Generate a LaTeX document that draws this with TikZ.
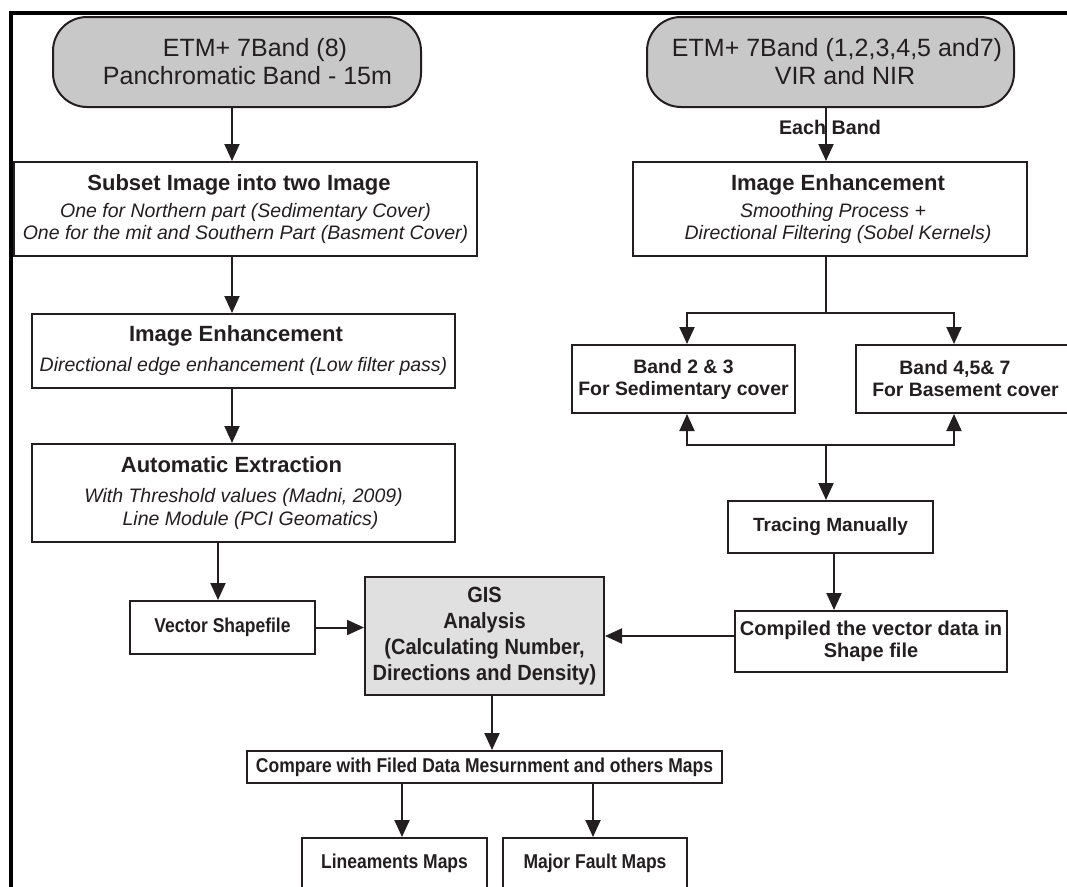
\documentclass[tikz,border=0pt]{standalone}
\usepackage{fontspec}
\setmainfont{Liberation Sans}
\newfontfamily\narrowsans[FakeStretch=0.875]{Liberation Sans}
\newfontfamily\gissans[FakeStretch=0.91]{Liberation Sans}
\usetikzlibrary{arrows.meta}
\definecolor{ink}{RGB}{35,31,32}
\definecolor{topgray}{RGB}{200,200,200}
\definecolor{gisgray}{RGB}{224,224,224}
\newcommand{\boxtitle}[1]{{\fontsize{22}{22}\selectfont\bfseries #1}}
\newcommand{\boxital}[1]{{\mdseries\itshape\fontsize{19.5}{22}\selectfont #1}}
\begin{document}
\begin{tikzpicture}[x=1pt,y=-1pt,
  every node/.style={text=ink},
  box/.style={draw=ink,line width=2pt,fill=white,align=center,inner sep=2pt,
    font=\fontsize{19.4}{22}\selectfont\bfseries},
  smallbox/.style={box,font=\narrowsans\fontsize{20}{22}\selectfont\bfseries},
  topbox/.style={box,fill=topgray,rounded corners=34pt,font=\fontsize{25}{28}\selectfont},
  ln/.style={draw=ink,line width=2pt},
  arr/.style={ln,-{Triangle[length=17pt,width=15pt]}},
  frame/.style={draw=black,line width=4pt}]
\useasboundingbox (0,0) rectangle (1067,886);
\fill[white] (0,0) rectangle (1067,886);
\clip (0,0) rectangle (1067,886);
\draw[frame] (1090,13) -- (11,13) -- (11,900);

% left column
\node[topbox,minimum width=368pt,minimum height=90pt] (tl) at (237,62)
  {\hspace*{36pt}ETM+ 7Band (8)\\\hspace*{21pt}Panchromatic Band - 15m};
\node[box,minimum width=463pt,minimum height=94pt] (sub) at (245.5,209)
  {\boxtitle{Subset Image into two Image}\hspace*{13pt}\\[5pt]
   \boxital{One for Northern part (Sedimentary Cover)}\\
   \boxital{One for the mit and Southern Part (Basment Cover)}};
\node[box,minimum width=423pt,minimum height=74pt] (ieL) at (243.5,351)
  {\boxtitle{Image Enhancement}\hspace*{15pt}\\[8pt]
   \boxital{Directional edge enhancement (Low filter pass)}};
\node[box,minimum width=423pt,minimum height=98pt] (ae) at (243.5,493)
  {\boxtitle{Automatic Extraction}\hspace*{24pt}\\[8pt]
   \boxital{With Threshold values (Madni, 2009)}\\[1pt]
   \hspace*{14pt}\boxital{Line Module (PCI Geomatics)}};
\node[smallbox,minimum width=185pt,minimum height=53pt] (vec) at (222.5,627.5) {Vector Shapefile};
\node[box,fill=gisgray,minimum width=239pt,minimum height=118pt,
  font=\gissans\fontsize{22}{26}\selectfont\bfseries] (gis) at (484.5,636)
  {GIS\\Analysis\\(Calculating Number,\\Directions and Density)};

% right column
\node[topbox,minimum width=367pt,minimum height=90pt] (tr) at (830.5,62)
  {\hspace*{13pt}ETM+ 7Band (1,2,3,4,5 and7)\\\hspace*{29pt}VIR and NIR};
\node[font=\fontsize{19.7}{22}\selectfont\bfseries] (eb) at (830,127) {Each Band};
\node[box,minimum width=394pt,minimum height=94pt] (ieR) at (830,209)
  {\hspace*{16pt}\boxtitle{Image Enhancement}\\[5pt]
   \hspace*{6pt}\boxital{Smoothing Process +}\\
   \hspace*{16pt}\boxital{Directional Filtering (Sobel Kernels)}};
\node[box,minimum width=223pt,minimum height=68pt] (b23) at (683.5,379)
  {Band 2 \& 3\\For Sedimentary cover};
\node[box,minimum width=223pt,minimum height=68pt] (b457) at (967.5,379)
  {Band 4,5\& 7\hspace*{25pt}\\For Basement cover\hspace*{4pt}};
\node[box,minimum width=205pt,minimum height=52pt,font=\fontsize{19.1}{22}\selectfont\bfseries]
  (tm) at (830.5,527) {Tracing Manually};
\node[box,minimum width=272pt,minimum height=61pt,font=\fontsize{20}{22}\selectfont\bfseries]
  (comp) at (871,641.5) {Compiled the vector data in\\Shape file};

% bottom
\node[smallbox,minimum width=475pt,minimum height=32pt] (cmp) at (484.5,767)
  {Compare with Filed Data Mesurnment and others Maps};
\node[smallbox,anchor=north,minimum width=185pt,minimum height=60pt,text height=14pt,text depth=14pt]
  (lin) at (394.5,837) {Lineaments Maps};
\node[smallbox,anchor=north,minimum width=184pt,minimum height=60pt,text height=14pt,text depth=14pt]
  (maj) at (595,837) {Major Fault Maps};

% helper coordinates
\coordinate (cL) at (232,0);
\coordinate (cV) at (218,0);
\coordinate (cR) at (826,0);
\coordinate (cT) at (834,0);
\coordinate (cB1) at (687,0);
\coordinate (cB2) at (954,0);
\coordinate (cG) at (492,0);
\coordinate (cLin) at (402,0);
\coordinate (cMaj) at (593,0);
\coordinate (bt) at (826,313);
\coordinate (bb) at (826,445);

% connectors
\draw[arr] (tl.south -| cL) -- (sub.north -| cL);
\draw[arr] (sub.south -| cL) -- (ieL.north -| cL);
\draw[arr] (ieL.south -| cL) -- (ae.north -| cL);
\draw[arr] (ae.south -| cV) -- (vec.north -| cV);
\draw[arr] (vec.east) -- (gis.west |- vec.east);
\draw[arr] (tr.south -| cR) -- (ieR.north -| cR);
\draw[ln] (ieR.south -| cR) -- (bt);
\draw[arr] (bt) -| (b23.north -| cB1);
\draw[arr] (bt) -| (b457.north -| cB2);
\draw[arr] (bb) -| (b23.south -| cB1);
\draw[arr] (bb) -| (b457.south -| cB2);
\draw[arr] (bb) -- (tm.north -| bb);
\draw[arr] (tm.south -| cT) -- (comp.north -| cT);
\draw[arr] (comp.west |- gis.east) -- (gis.east);
\draw[arr] (gis.south -| cG) -- (cmp.north -| cG);
\draw[arr] (cmp.south -| cLin) -- (lin.north -| cLin);
\draw[arr] (cmp.south -| cMaj) -- (maj.north -| cMaj);
\end{tikzpicture}
\end{document}
